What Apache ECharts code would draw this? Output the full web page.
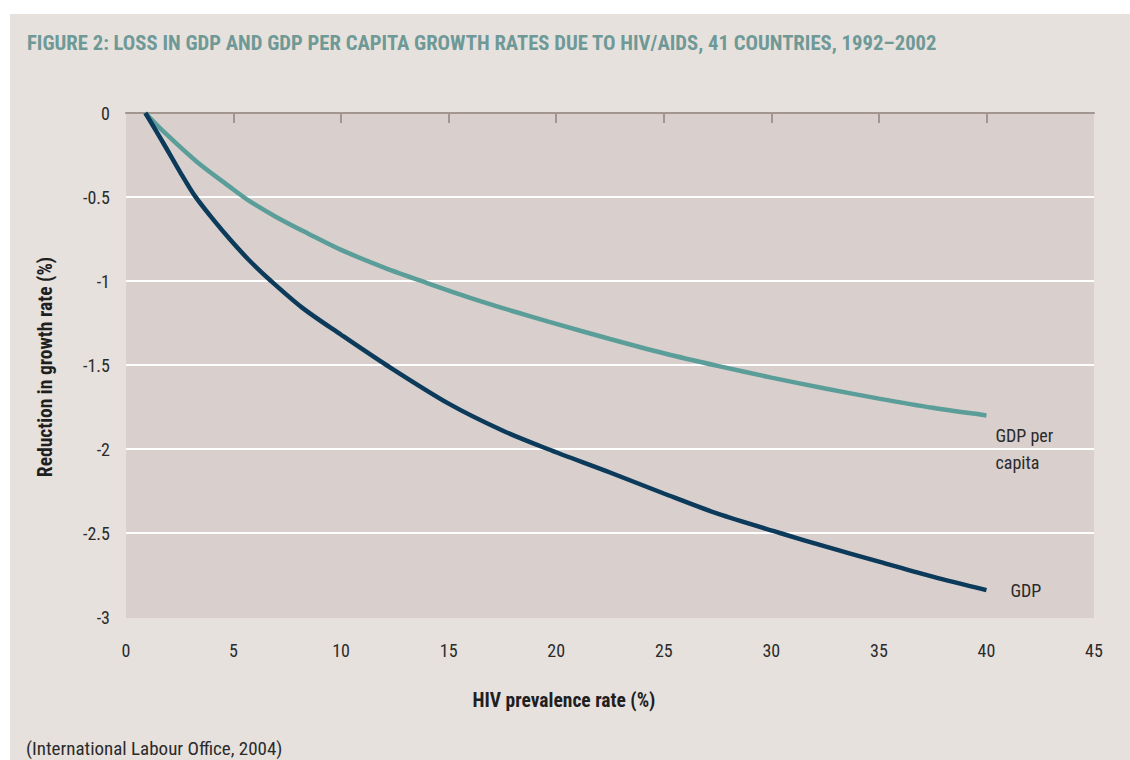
<!DOCTYPE html>
<html>
<head>
<meta charset="utf-8">
<script src="https://cdn.jsdelivr.net/npm/echarts@6/dist/echarts.min.js"></script>
<style>
html,body{margin:0;padding:0;background:#fff;}
#chart{width:1130px;height:760px;}
</style>
</head>
<body>
<div id="chart"></div>
<script>
const titleText = 'FIGURE 2: LOSS IN GDP AND GDP PER CAPITA GROWTH RATES DUE TO HIV/AIDS, 41 COUNTRIES, 1992\u20132002';
const sourceText = '(International Labour Office, 2004)';
const xAxisName = 'HIV prevalence rate (%)';
const yAxisName = 'Reduction in growth rate (%)';
const xTickMarks = [5, 10, 15, 20, 25, 30, 35, 40];

// HIV prevalence rate (%) -> reduction in GDP growth rate (%)
const gdpX = [0.9, 1.74, 2.51, 3.21, 4.06, 4.83, 5.69, 6.74, 8.2, 10.0, 12.1, 15.0, 17.5, 19.6, 22.5, 25.0, 27.5, 30.4, 32.5, 35.0, 37.5, 40.0];
const gdpY = [0, -0.18, -0.35, -0.495, -0.635, -0.752, -0.872, -1.0, -1.16, -1.32, -1.5, -1.73, -1.89, -2.0, -2.14, -2.265, -2.385, -2.5, -2.58, -2.67, -2.76, -2.84];
// HIV prevalence rate (%) -> reduction in GDP per capita growth rate (%)
const pcX = [0.9, 1.74, 3.29, 4.83, 5.69, 7.0, 8.5, 10.0, 12.0, 14.0, 16.0, 18.0, 20.0, 22.5, 25.0, 27.5, 30.0, 32.5, 35.0, 37.5, 40.0];
const pcY = [0, -0.11, -0.29, -0.44, -0.52, -0.62, -0.72, -0.815, -0.92, -1.012, -1.10, -1.18, -1.255, -1.345, -1.43, -1.505, -1.575, -1.64, -1.70, -1.755, -1.80];
const gdpLabel = 'GDP';
const pcLabel = 'GDP per\ncapita';

const FONT = "'Roboto Condensed', Roboto, sans-serif";

const chart = echarts.init(document.getElementById('chart'), null, {renderer: 'svg'});
const pair = (xs, ys) => xs.map((x, i) => [x, ys[i]]);

chart.setOption({
  backgroundColor: '#ffffff',
  animation: false,
  textStyle: {fontFamily: FONT},
  title: {
    text: titleText,
    left: 22, top: 27,
    textStyle: {fontFamily: FONT, fontWeight: 'bold', fontSize: 20.7, color: '#6f9997'}
  },
  graphic: [
    {type: 'rect', z: -10, silent: true, shape: {x: 10, y: 14, width: 1120, height: 746}, style: {fill: '#e6e1dd'}},
    {type: 'text', x: 26, y: 748, style: {text: sourceText, font: "19px " + FONT, fill: '#2b2b2b', verticalAlign: 'middle'}},
    {type: 'text', x: 564, y: 700, style: {text: xAxisName, font: "bold 19.5px " + FONT, fill: '#1f1f1f', align: 'center', verticalAlign: 'middle'}},
    {type: 'text', x: 45, y: 367, rotation: Math.PI / 2, style: {text: yAxisName, font: "bold 19.5px " + FONT, fill: '#1f1f1f', align: 'center', verticalAlign: 'middle'}}
  ],
  grid: {left: 126, right: 36, top: 113, bottom: 143, show: true, backgroundColor: '#d9cfcc', borderWidth: 0},
  xAxis: {
    type: 'value', min: 0, max: 45, interval: 5,
    axisLine: {show: true, lineStyle: {color: '#a3958f', width: 2}},
    axisTick: {show: true, length: 10, customValues: xTickMarks, lineStyle: {color: '#a3958f', width: 2}},
    splitLine: {show: false},
    axisLabel: {margin: 24, fontSize: 18, color: '#2b2b2b', fontFamily: FONT}
  },
  yAxis: {
    type: 'value', min: -3, max: 0, interval: 0.5,
    axisLine: {show: false},
    axisTick: {show: false},
    splitLine: {show: true, lineStyle: {width: 2, color: ['#d9cfcc', '#ffffff', '#ffffff', '#ffffff', '#ffffff', '#ffffff', 'rgba(0,0,0,0)']}},
    axisLabel: {margin: 16, fontSize: 18, color: '#2b2b2b', fontFamily: FONT}
  },
  series: [
    {
      name: 'GDP per capita', type: 'line', data: pair(pcX, pcY), smooth: 0.3, symbol: 'none',
      lineStyle: {color: '#5b9e99', width: 4.5}, z: 3,
      endLabel: {show: true, formatter: pcLabel, offset: [1, 34], align: 'left', verticalAlign: 'middle', fontSize: 18, lineHeight: 27, color: '#2b2b2b', fontFamily: FONT}
    },
    {
      name: 'GDP', type: 'line', data: pair(gdpX, gdpY), smooth: 0.3, symbol: 'none',
      lineStyle: {color: '#0b3a5b', width: 4.5}, z: 4,
      endLabel: {show: true, formatter: gdpLabel, offset: [16, 0], align: 'left', verticalAlign: 'middle', fontSize: 18, color: '#2b2b2b', fontFamily: FONT}
    }
  ]
});
</script>
</body>
</html>
